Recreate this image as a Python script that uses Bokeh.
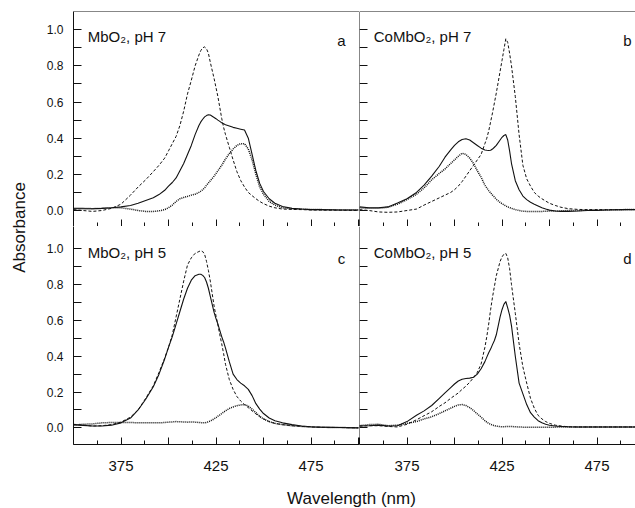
import math
from bokeh.plotting import figure
from bokeh.models import Range1d, LinearAxis, FixedTicker, Span, PrintfTickFormatter
from bokeh.layouts import row, column
from bokeh.embed import file_html
from bokeh.resources import INLINE
from bokeh.core.properties import value

# ---------------- data ----------------
WL = [350, 355, 360, 365, 370, 375, 380,
      384, 388, 392, 395, 398,
      400, 402, 404, 406, 408, 410, 412, 414, 416,
      417, 418, 419, 420, 421, 422,
      424, 425, 426, 427, 428, 429, 430,
      432, 434, 436, 438, 440, 442, 444, 446, 448, 450,
      453, 456, 460, 465, 470, 475, 480, 490, 500]

# panel a : MbO2, pH 7
A_DASHED = [0.005, 0.0, -0.005, 0.0, 0.012, 0.035, 0.085,
            0.13, 0.17, 0.215, 0.25, 0.29,
            0.33, 0.37, 0.41, 0.47, 0.55, 0.645, 0.72, 0.80, 0.86,
            0.885, 0.90, 0.905, 0.895, 0.87, 0.82,
            0.73, 0.68, 0.63, 0.57, 0.51, 0.46, 0.42,
            0.35, 0.28, 0.215, 0.166, 0.13, 0.10, 0.082, 0.065, 0.05, 0.038,
            0.024, 0.015, 0.008, 0.006, 0.005, 0.003, 0.002, 0.002, 0.0]
A_SOLID = [0.01, 0.01, 0.01, 0.012, 0.015, 0.02, 0.028,
           0.04, 0.055, 0.07, 0.088, 0.112,
           0.135, 0.155, 0.18, 0.22, 0.26, 0.31, 0.36, 0.42, 0.47,
           0.49, 0.505, 0.518, 0.525, 0.53, 0.528,
           0.515, 0.508, 0.50, 0.493, 0.485, 0.48, 0.475,
           0.468, 0.46, 0.455, 0.45, 0.445, 0.40, 0.31, 0.22, 0.15, 0.105,
           0.065, 0.04, 0.022, 0.012, 0.008, 0.005, 0.005, 0.003, 0.003]
A_DOTTED = [0.012, 0.012, 0.01, 0.012, 0.015, 0.015, 0.008,
            0.0, -0.005, -0.005, -0.002, 0.005,
            0.015, 0.03, 0.05, 0.065, 0.072, 0.078, 0.085, 0.09, 0.10,
            0.107, 0.115, 0.125, 0.14, 0.152, 0.165,
            0.19, 0.205, 0.22, 0.235, 0.25, 0.268, 0.285,
            0.315, 0.34, 0.36, 0.37, 0.37, 0.34, 0.28, 0.20, 0.13, 0.09,
            0.05, 0.03, 0.015, 0.01, 0.008, 0.005, 0.005, 0.003, 0.003]

# panel b : CoMbO2, pH 7
B_DASHED = [0.005, 0.0, -0.008, -0.01, -0.008, 0.0, 0.008,
            0.03, 0.05, 0.07, 0.085, 0.10,
            0.115, 0.135, 0.16, 0.19, 0.22, 0.25, 0.28, 0.31, 0.37,
            0.40, 0.44, 0.49, 0.54, 0.595, 0.65,
            0.77, 0.83, 0.89, 0.95, 0.93, 0.87, 0.80,
            0.63, 0.42, 0.25, 0.175, 0.135, 0.10, 0.08, 0.065, 0.052, 0.04,
            0.028, 0.018, 0.01, 0.006, 0.005, 0.005, 0.005, 0.005, 0.005]
B_SOLID = [0.02, 0.015, 0.015, 0.02, 0.042, 0.065, 0.10,
           0.14, 0.19, 0.245, 0.295, 0.335,
           0.36, 0.38, 0.393, 0.397, 0.39, 0.375, 0.36, 0.345, 0.335,
           0.333, 0.332, 0.333, 0.34, 0.35, 0.36,
           0.39, 0.405, 0.415, 0.42, 0.39, 0.33, 0.26,
           0.165, 0.115, 0.08, 0.06, 0.046, 0.035, 0.025, 0.015, 0.008, 0.002,
           -0.003, -0.005, -0.005, -0.003, 0.0, 0.0, 0.003, 0.005, 0.005]
B_DOTTED = [0.015, 0.012, 0.012, 0.018, 0.035, 0.06, 0.09,
            0.125, 0.17, 0.205, 0.23, 0.26,
            0.28, 0.30, 0.317, 0.31, 0.29, 0.26, 0.22, 0.184, 0.14,
            0.125, 0.11, 0.097, 0.085, 0.074, 0.062,
            0.045, 0.038, 0.032, 0.026, 0.02, 0.016, 0.012,
            0.005, 0.0, -0.004, -0.005, -0.005, -0.005, -0.005, -0.005, -0.004, -0.003,
            -0.003, -0.002, 0.0, 0.0, 0.002, 0.003, 0.003, 0.005, 0.005]

# panel c : MbO2, pH 5
C_DASHED = [0.02, 0.015, 0.01, 0.012, 0.018, 0.032, 0.06,
            0.10, 0.165, 0.235, 0.31, 0.39,
            0.45, 0.52, 0.62, 0.72, 0.82, 0.91, 0.95, 0.975, 0.985,
            0.99, 0.985, 0.97, 0.93, 0.88, 0.82,
            0.68, 0.625, 0.575, 0.52, 0.47, 0.415, 0.355,
            0.27, 0.215, 0.175, 0.15, 0.13, 0.113, 0.095, 0.078, 0.062, 0.05,
            0.035, 0.025, 0.018, 0.012, 0.008, 0.005, 0.003, 0.002, 0.0]
C_SOLID = [0.018, 0.014, 0.01, 0.01, 0.015, 0.028, 0.055,
           0.10, 0.16, 0.23, 0.30, 0.385,
           0.45, 0.51, 0.58, 0.65, 0.72, 0.78, 0.825, 0.85, 0.858,
           0.858, 0.852, 0.84, 0.815, 0.78, 0.735,
           0.645, 0.61, 0.58, 0.545, 0.51, 0.48, 0.445,
           0.37, 0.30, 0.27, 0.25, 0.235, 0.215, 0.18, 0.135, 0.105, 0.08,
           0.055, 0.04, 0.028, 0.018, 0.01, 0.006, 0.004, 0.002, 0.0]
C_DOTTED = [0.015, 0.02, 0.022, 0.028, 0.03, 0.03, 0.03,
            0.028, 0.028, 0.028, 0.028, 0.03,
            0.032, 0.033, 0.035, 0.034, 0.033, 0.032, 0.033, 0.032, 0.03,
            0.029, 0.028, 0.028, 0.03, 0.034, 0.038,
            0.05, 0.057, 0.065, 0.072, 0.08, 0.088, 0.095,
            0.108, 0.117, 0.124, 0.128, 0.13, 0.122, 0.105, 0.085, 0.065, 0.05,
            0.035, 0.025, 0.018, 0.012, 0.008, 0.005, 0.003, 0.002, 0.0]

# panel d : CoMbO2, pH 5
D_DASHED = [0.01, 0.012, 0.012, 0.008, 0.005, 0.02, 0.045,
            0.068, 0.09, 0.12, 0.14, 0.165,
            0.18, 0.195, 0.215, 0.233, 0.255, 0.28, 0.31, 0.357, 0.45,
            0.51, 0.58, 0.66, 0.73, 0.79, 0.85,
            0.93, 0.955, 0.97, 0.975, 0.95, 0.89, 0.80,
            0.64, 0.47, 0.34, 0.25, 0.165, 0.11, 0.07, 0.05, 0.035, 0.025,
            0.015, 0.01, 0.006, 0.005, 0.005, 0.005, 0.005, 0.005, 0.005]
D_SOLID = [0.01, 0.012, 0.015, 0.01, 0.012, 0.035, 0.07,
           0.095, 0.125, 0.165, 0.195, 0.225,
           0.245, 0.262, 0.272, 0.276, 0.278, 0.283, 0.30, 0.33, 0.37,
           0.395, 0.42, 0.44, 0.465, 0.488, 0.52,
           0.62, 0.66, 0.69, 0.706, 0.67, 0.63, 0.57,
           0.40, 0.25, 0.19, 0.13, 0.085, 0.06, 0.04, 0.028, 0.02, 0.015,
           0.01, 0.008, 0.006, 0.005, 0.005, 0.005, 0.005, 0.005, 0.005]
D_DOTTED = [0.012, 0.018, 0.02, 0.012, 0.015, 0.025, 0.035,
            0.05, 0.062, 0.08, 0.095, 0.11,
            0.12, 0.128, 0.13, 0.125, 0.113, 0.097, 0.078, 0.06, 0.04,
            0.032, 0.025, 0.02, 0.015, 0.012, 0.01,
            0.007, 0.006, 0.006, 0.007, 0.008, 0.008, 0.008,
            0.006, 0.005, 0.004, 0.003, 0.003, 0.003, 0.003, 0.003, 0.003, 0.003,
            0.004, 0.005, 0.005, 0.005, 0.005, 0.005, 0.005, 0.005, 0.005]

TITLES = ["MbO\u2082, pH 7", "CoMbO\u2082, pH 7", "MbO\u2082, pH 5", "CoMbO\u2082, pH 5"]
LETTERS = ["a", "b", "c", "d"]

X_LABELED = [375, 425, 475]
X_LONG = [350, 400, 450, 500]
X_SHORT = [362.5, 387.5, 412.5, 437.5, 462.5, 487.5]
Y_TICKS = [0.0, 0.2, 0.4, 0.6, 0.8, 1.0]
Y_MINOR = [0.1, 0.3, 0.5, 0.7, 0.9]

Y_LABEL = "Absorbance"
X_LABEL = "Wavelength (nm)"

# ---------------- styling / geometry ----------------
FONT = "Liberation Sans"
INK = "#111111"
X0 = 350.0
X_END_LEFT = 350 + 286 / 1.9
X_END_RIGHT = 350 + 276 / 1.9
Y_TOP = (-0.0885, 1.101)
Y_BOT = (-0.093, 1.125)


def bare_axis(major, minor, tick_len, fixed=None):
    ax = LinearAxis(ticker=FixedTicker(ticks=major, minor_ticks=minor))
    ax.axis_line_color = INK
    ax.axis_line_width = 1
    ax.major_tick_line_color = INK
    ax.minor_tick_line_color = INK
    ax.major_tick_out = 0
    ax.minor_tick_out = 0
    ax.major_tick_in = tick_len
    ax.minor_tick_in = tick_len
    ax.major_label_text_font = FONT
    ax.major_label_text_color = INK
    if fixed is not None:
        ax.fixed_location = fixed
    return ax


def panel(idx, x_end, yr, width, height, left_labels, bottom_labels, b_left, b_top, b_bottom,
          title_y, letter_y, top_border):
    p = figure(width=width, height=height,
               x_range=Range1d(X0, x_end), y_range=Range1d(*yr),
               x_axis_type=None, y_axis_type=None,
               toolbar_location=None, output_backend="svg",
               min_border=0, min_border_left=b_left, min_border_right=0,
               min_border_top=b_top, min_border_bottom=b_bottom)
    p.outline_line_color = None
    p.background_fill_color = "white"
    p.border_fill_color = "white"

    # y axis
    if left_labels:
        yax = bare_axis(Y_TICKS, Y_MINOR, 8)
        yax.formatter = PrintfTickFormatter(format="%.1f")
        yax.major_label_text_font_size = "12px"
        yax.major_label_standoff = 10
    else:
        yax = bare_axis([], Y_TICKS + Y_MINOR, 8, fixed=X0)
    p.add_layout(yax, "left")

    # x axis (long ticks every 25 nm, short ticks between)
    if bottom_labels:
        xax = bare_axis(X_LABELED, X_LONG, 7)
        xax.major_label_text_font_size = "15px"
        xax.major_label_standoff = 16
        p.add_layout(xax, "below")
    else:
        p.add_layout(bare_axis([], X_LABELED + X_LONG, 7, fixed=yr[0]), "below")
    p.add_layout(bare_axis([], X_SHORT, 4, fixed=yr[0]), "below")

    if top_border:
        p.add_layout(Span(location=yr[1], dimension="width", line_color=INK, line_width=1))

    series = [(A_SOLID, A_DASHED, A_DOTTED), (B_SOLID, B_DASHED, B_DOTTED),
              (C_SOLID, C_DASHED, C_DOTTED), (D_SOLID, D_DASHED, D_DOTTED)][idx]
    solid, dashed, dotted = series
    p.line(WL, dotted, line_color=INK, line_width=1.5, line_dash="1 1")
    p.line(WL, dashed, line_color=INK, line_width=1.0, line_dash="3 2")
    p.line(WL, solid, line_color=INK, line_width=1.1)

    p.text(x=[357.5], y=[title_y], text=[TITLES[idx]], text_font=value(FONT),
           text_font_size="15px", text_align="left", text_baseline="alphabetic", text_color=INK)
    p.text(x=[491], y=[letter_y], text=[LETTERS[idx]], text_font=value(FONT),
           text_font_size="15px", text_align="center", text_baseline="alphabetic", text_color=INK)
    return p


pa = panel(0, X_END_LEFT, Y_TOP, 331, 226, True, False, 45, 11, 0, 0.963, 0.941, True)
pb = panel(1, X_END_RIGHT, Y_TOP, 276, 226, False, False, 0, 11, 0, 0.963, 0.941, True)
pc = panel(2, X_END_LEFT, Y_BOT, 331, 254, True, True, 45, 0, 36, 0.979, 0.946, False)
pd = panel(3, X_END_RIGHT, Y_BOT, 276, 254, False, True, 0, 0, 36, 0.979, 0.946, False)

ylab = figure(width=28, height=508, x_range=Range1d(0, 28), y_range=Range1d(0, 508),
              x_axis_type=None, y_axis_type=None, toolbar_location=None,
              output_backend="svg", min_border=0)
ylab.outline_line_color = None
ylab.text(x=[19], y=[281], text=[Y_LABEL], angle=math.pi / 2, text_font=value(FONT),
          text_font_size="17px", text_align="center", text_baseline="middle", text_color=INK)

xlab = figure(width=607, height=28, x_range=Range1d(0, 607), y_range=Range1d(0, 28),
              x_axis_type=None, y_axis_type=None, toolbar_location=None,
              output_backend="svg", min_border=0)
xlab.outline_line_color = None
xlab.text(x=[323], y=[10], text=[X_LABEL], text_font=value(FONT),
          text_font_size="17px", text_align="center", text_baseline="alphabetic", text_color=INK)

layout = row(ylab, column(row(pa, pb), row(pc, pd), xlab))

with open("out.html", "w") as f:
    f.write(file_html(layout, INLINE))
